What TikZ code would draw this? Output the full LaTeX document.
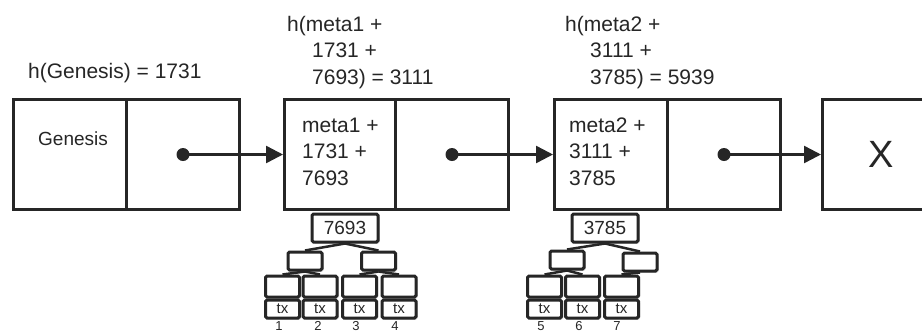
\documentclass[tikz,border=0pt]{standalone}
\usepackage{fontspec}
\setmainfont{Liberation Sans}
\usetikzlibrary{arrows.meta,shadows}
\definecolor{ink}{HTML}{262626}
\tikzset{
  shd/.style={drop shadow={shadow xshift=1.5pt, shadow yshift=-1.5pt, opacity=0.22, fill=black}},
  cell/.style={draw=ink, line width=3pt, fill=white, minimum width=113pt, minimum height=110pt, inner sep=0pt, anchor=north west, shd},
  lbl/.style={text=ink, inner sep=0pt, font=\fontsize{21}{26.5}\selectfont, align=left, anchor=base west},
  dot/.style={circle, fill=ink, minimum size=13pt, inner sep=0pt},
  link/.style={draw=ink, line width=2.5pt, -{Triangle[length=17pt,width=17pt]}},
  tbox/.style={draw=ink, line width=3pt, fill=white, rounded corners=1.5pt, inner sep=0pt, text=ink, shd},
  rootbox/.style={tbox, minimum width=66pt, minimum height=28pt, font=\fontsize{19}{19}\selectfont},
  midbox/.style={tbox, minimum width=34pt, minimum height=18pt},
  leafbox/.style={tbox, minimum width=34pt, minimum height=21pt},
  txbox/.style={tbox, minimum width=34pt, minimum height=18pt, font=\fontsize{15}{15}\selectfont},
  num/.style={text=ink, inner sep=0pt, anchor=base, font=\fontsize{13}{13}\selectfont},
  tedge/.style={draw=ink, line width=2.5pt}
}
\begin{document}
\begin{tikzpicture}[x=1pt, y=-1pt]
\useasboundingbox (0,0) rectangle (922,333);
\clip (0,0) rectangle (922,333);
\fill[white] (0,0) rectangle (922,333);

% top labels (multi-line nodes: base = last line's baseline)
\node[lbl] (hg) at (28,78) {h(Genesis) = 1731};
\node[lbl] (h1) at (287,84) {h(meta1 +\\\hspace*{25pt}1731 +\\\hspace*{25pt}7693) = 3111};
\node[lbl] (h2) at (565,84) {h(meta2 +\\\hspace*{25pt}3111 +\\\hspace*{25pt}3785) = 5939};

% blocks
\node[cell] (g1) at (12,98) {};
\node[cell] (g2) at (125,98) {};
\node[cell] (b1) at (283,98) {};
\node[cell] (b2) at (394,98) {};
\node[cell] (c1) at (553,98) {};
\node[cell] (c2) at (666,98) {};
\node[cell, minimum width=226pt] (x1) at (821,98) {};

\node[lbl, font=\fontsize{19}{19}\selectfont] (gt) at (38,145) {Genesis};
\node[lbl] (bt) at (302,185) {meta1 +\\1731 +\\7693};
\node[lbl] (ct) at (569,185) {meta2 +\\3111 +\\3785};
\node[text=ink, inner sep=0pt, anchor=base, font=\fontsize{38}{38}\selectfont] (xt) at (881.5,167) {X};

% pointers
\node[dot] (d1) at (g2.center) {};
\node[dot] (d2) at (b2.center) {};
\node[dot] (d3) at (c2.center) {};
\draw[link] (d1.center) -- (b1.west);
\draw[link] (d2.center) -- (c1.west);
\draw[link] (d3.center) -- (x1.west);

% merkle tree 1
\node[rootbox] (r1) at (345,228) {7693};
\node[midbox] (m1a) at (305,261) {};
\node[midbox] (m1b) at (378.5,261) {};
\node[leafbox] (l1) at (282.5,286.5) {};
\node[leafbox] (l2) at (320,286.5) {};
\node[leafbox] (l3) at (359.5,286.5) {};
\node[leafbox] (l4) at (399,286.5) {};
\node[txbox] (t1) at (282.5,309) {tx};
\node[txbox] (t2) at (320,309) {tx};
\node[txbox] (t3) at (359.5,309) {tx};
\node[txbox] (t4) at (399,309) {tx};
\node[num] (n1) at (279,330.5) {1};
\node[num] (n2) at (318,330.5) {2};
\node[num] (n3) at (356,330.5) {3};
\node[num] (n4) at (395,330.5) {4};
\draw[tedge] (r1.south) -- (m1a.north);
\draw[tedge] (r1.south) -- (m1b.north);
\draw[tedge] (m1a.south) -- (l1.north);
\draw[tedge] (m1a.south) -- (l2.north);
\draw[tedge] (m1b.south) -- (l3.north);
\draw[tedge] (m1b.south) -- (l4.north);

% merkle tree 2
\node[rootbox] (r2) at (605,228) {3785};
\node[midbox] (m2a) at (567,260) {};
\node[midbox] (m2b) at (640,262) {};
\node[leafbox] (k1) at (544.5,286.5) {};
\node[leafbox] (k2) at (582.5,286.5) {};
\node[leafbox] (k3) at (621.5,286.5) {};
\node[txbox] (u1) at (544.5,309) {tx};
\node[txbox] (u2) at (582.5,309) {tx};
\node[txbox] (u3) at (621.5,309) {tx};
\node[num] (n5) at (541,330.5) {5};
\node[num] (n6) at (579,330.5) {6};
\node[num] (n7) at (617,330.5) {7};
\draw[tedge] (r2.south) -- (m2a.north);
\draw[tedge] (r2.south) -- (m2b.north);
\draw[tedge] (m2a.south) -- (k1.north);
\draw[tedge] (m2a.south) -- (k2.north);
\draw[tedge] (m2b.south) -- (k3.north);
\end{tikzpicture}
\end{document}
